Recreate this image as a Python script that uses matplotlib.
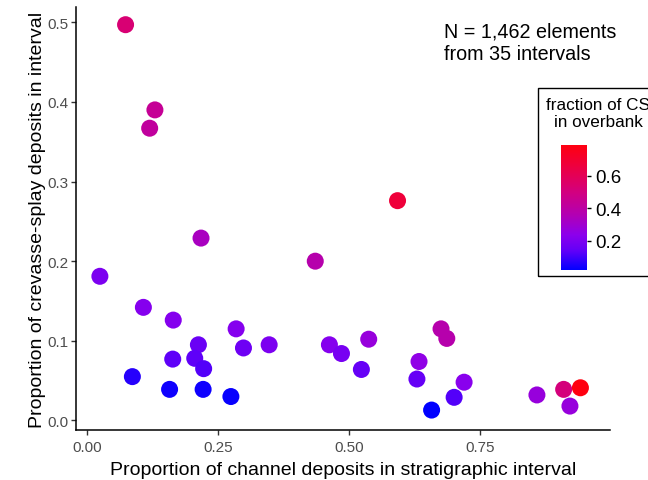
import matplotlib
matplotlib.use("Agg")
import matplotlib.pyplot as plt
from matplotlib.colors import LinearSegmentedColormap, Normalize
from matplotlib.patches import Rectangle

plt.rcParams["font.family"] = ["Liberation Sans", "DejaVu Sans"]

# ── data ────────────────────────────────────────────────────────────────────
channel_prop = [0.074, 0.130, 0.120, 0.218, 0.593, 0.436, 0.025, 0.108, 0.165,
                0.285, 0.213, 0.348, 0.299, 0.463, 0.486, 0.164, 0.206, 0.223,
                0.087, 0.158, 0.222, 0.275, 0.538, 0.524, 0.676, 0.687, 0.634,
                0.630, 0.720, 0.701, 0.658, 0.859, 0.910, 0.942, 0.922]
cs_prop = [0.497, 0.390, 0.367, 0.229, 0.276, 0.200, 0.181, 0.142, 0.126,
           0.115, 0.095, 0.095, 0.091, 0.095, 0.084, 0.077, 0.078, 0.065,
           0.055, 0.039, 0.039, 0.030, 0.102, 0.064, 0.115, 0.103, 0.074,
           0.052, 0.048, 0.029, 0.013, 0.032, 0.039, 0.041, 0.018]
cs_overbank = [0.53, 0.44, 0.42, 0.33, 0.675, 0.375, 0.20, 0.22, 0.22,
               0.22, 0.16, 0.20, 0.17, 0.22, 0.19, 0.135, 0.135, 0.12,
               0.066, 0.04, 0.04, 0.03, 0.27, 0.15, 0.375, 0.375, 0.25,
               0.15, 0.23, 0.12, 0.02, 0.27, 0.51, 0.79, 0.27]
x_ticks = [0.0, 0.25, 0.50, 0.75]
y_ticks = [0.0, 0.1, 0.2, 0.3, 0.4, 0.5]
cbar_ticks = [0.2, 0.4, 0.6]

# blue -> red gradient, stops matched to the reference legend
cmap = LinearSegmentedColormap.from_list("blue_red", [
    (0.00, "#0000FF"), (0.15, "#6000F8"), (0.28, "#8C00EC"),
    (0.45, "#B400B0"), (0.62, "#D20080"), (0.80, "#EA0048"),
    (1.00, "#FF0010")])
norm = Normalize(vmin=min(cs_overbank), vmax=max(cs_overbank))

# ── figure ──────────────────────────────────────────────────────────────────
fig = plt.figure(figsize=(6.48, 4.81), dpi=100)
ax = fig.add_axes([0.118, 0.104, 0.823, 0.879])

ax.scatter(channel_prop, cs_prop, c=cs_overbank, cmap=cmap, norm=norm,
           s=150, linewidths=0, zorder=3)

ax.set_xlim(-0.0197, 0.998)
ax.set_ylim(-0.012, 0.519)
ax.set_xticks(x_ticks)
ax.set_xticklabels(["0.00", "0.25", "0.50", "0.75"])
ax.set_yticks(y_ticks)
ax.set_yticklabels([f"{v:.1f}" for v in y_ticks])
ax.tick_params(labelsize=11, labelcolor="#4D4D4D", color="#333333",
               length=3.5, width=1)
ax.tick_params(axis="x", pad=4)
ax.tick_params(axis="y", pad=2)
for side in ["top", "right"]:
    ax.spines[side].set_visible(False)
for side in ["left", "bottom"]:
    ax.spines[side].set_linewidth(1.1)

ax.set_xlabel("Proportion of channel deposits in stratigraphic interval",
              fontsize=14, labelpad=5)
ax.set_ylabel("Proportion of crevasse-splay deposits in interval",
              fontsize=14, labelpad=1)

fig.text(444 / 648, 1 - 23 / 481, "N = 1,462 elements\nfrom 35 intervals",
         fontsize=14.2, ha="left", va="top", linespacing=1.2)

# ── colour legend box ──────────────────────────────────────────────────────
fig.patches.append(Rectangle((538 / 648, 1 - 277 / 481), 120 / 648, 188 / 481,
                             transform=fig.transFigure, fill=False,
                             edgecolor="black", linewidth=1))
fig.text(598 / 648, 1 - 114 / 481, "fraction of CS\nin overbank",
         fontsize=12.3, ha="center", va="center", linespacing=1.1)
cax = fig.add_axes([561 / 648, 1 - 271 / 481, 26 / 648, 125 / 481])
cb = fig.colorbar(plt.cm.ScalarMappable(norm=norm, cmap=cmap), cax=cax,
                  ticks=cbar_ticks)
cb.outline.set_visible(False)
cax.tick_params(labelsize=13.5, length=3, width=1, color="black", pad=3)
cax.set_yticklabels([f"{v:.1f}" for v in cbar_ticks])

fig.savefig("out.png", dpi=100)
